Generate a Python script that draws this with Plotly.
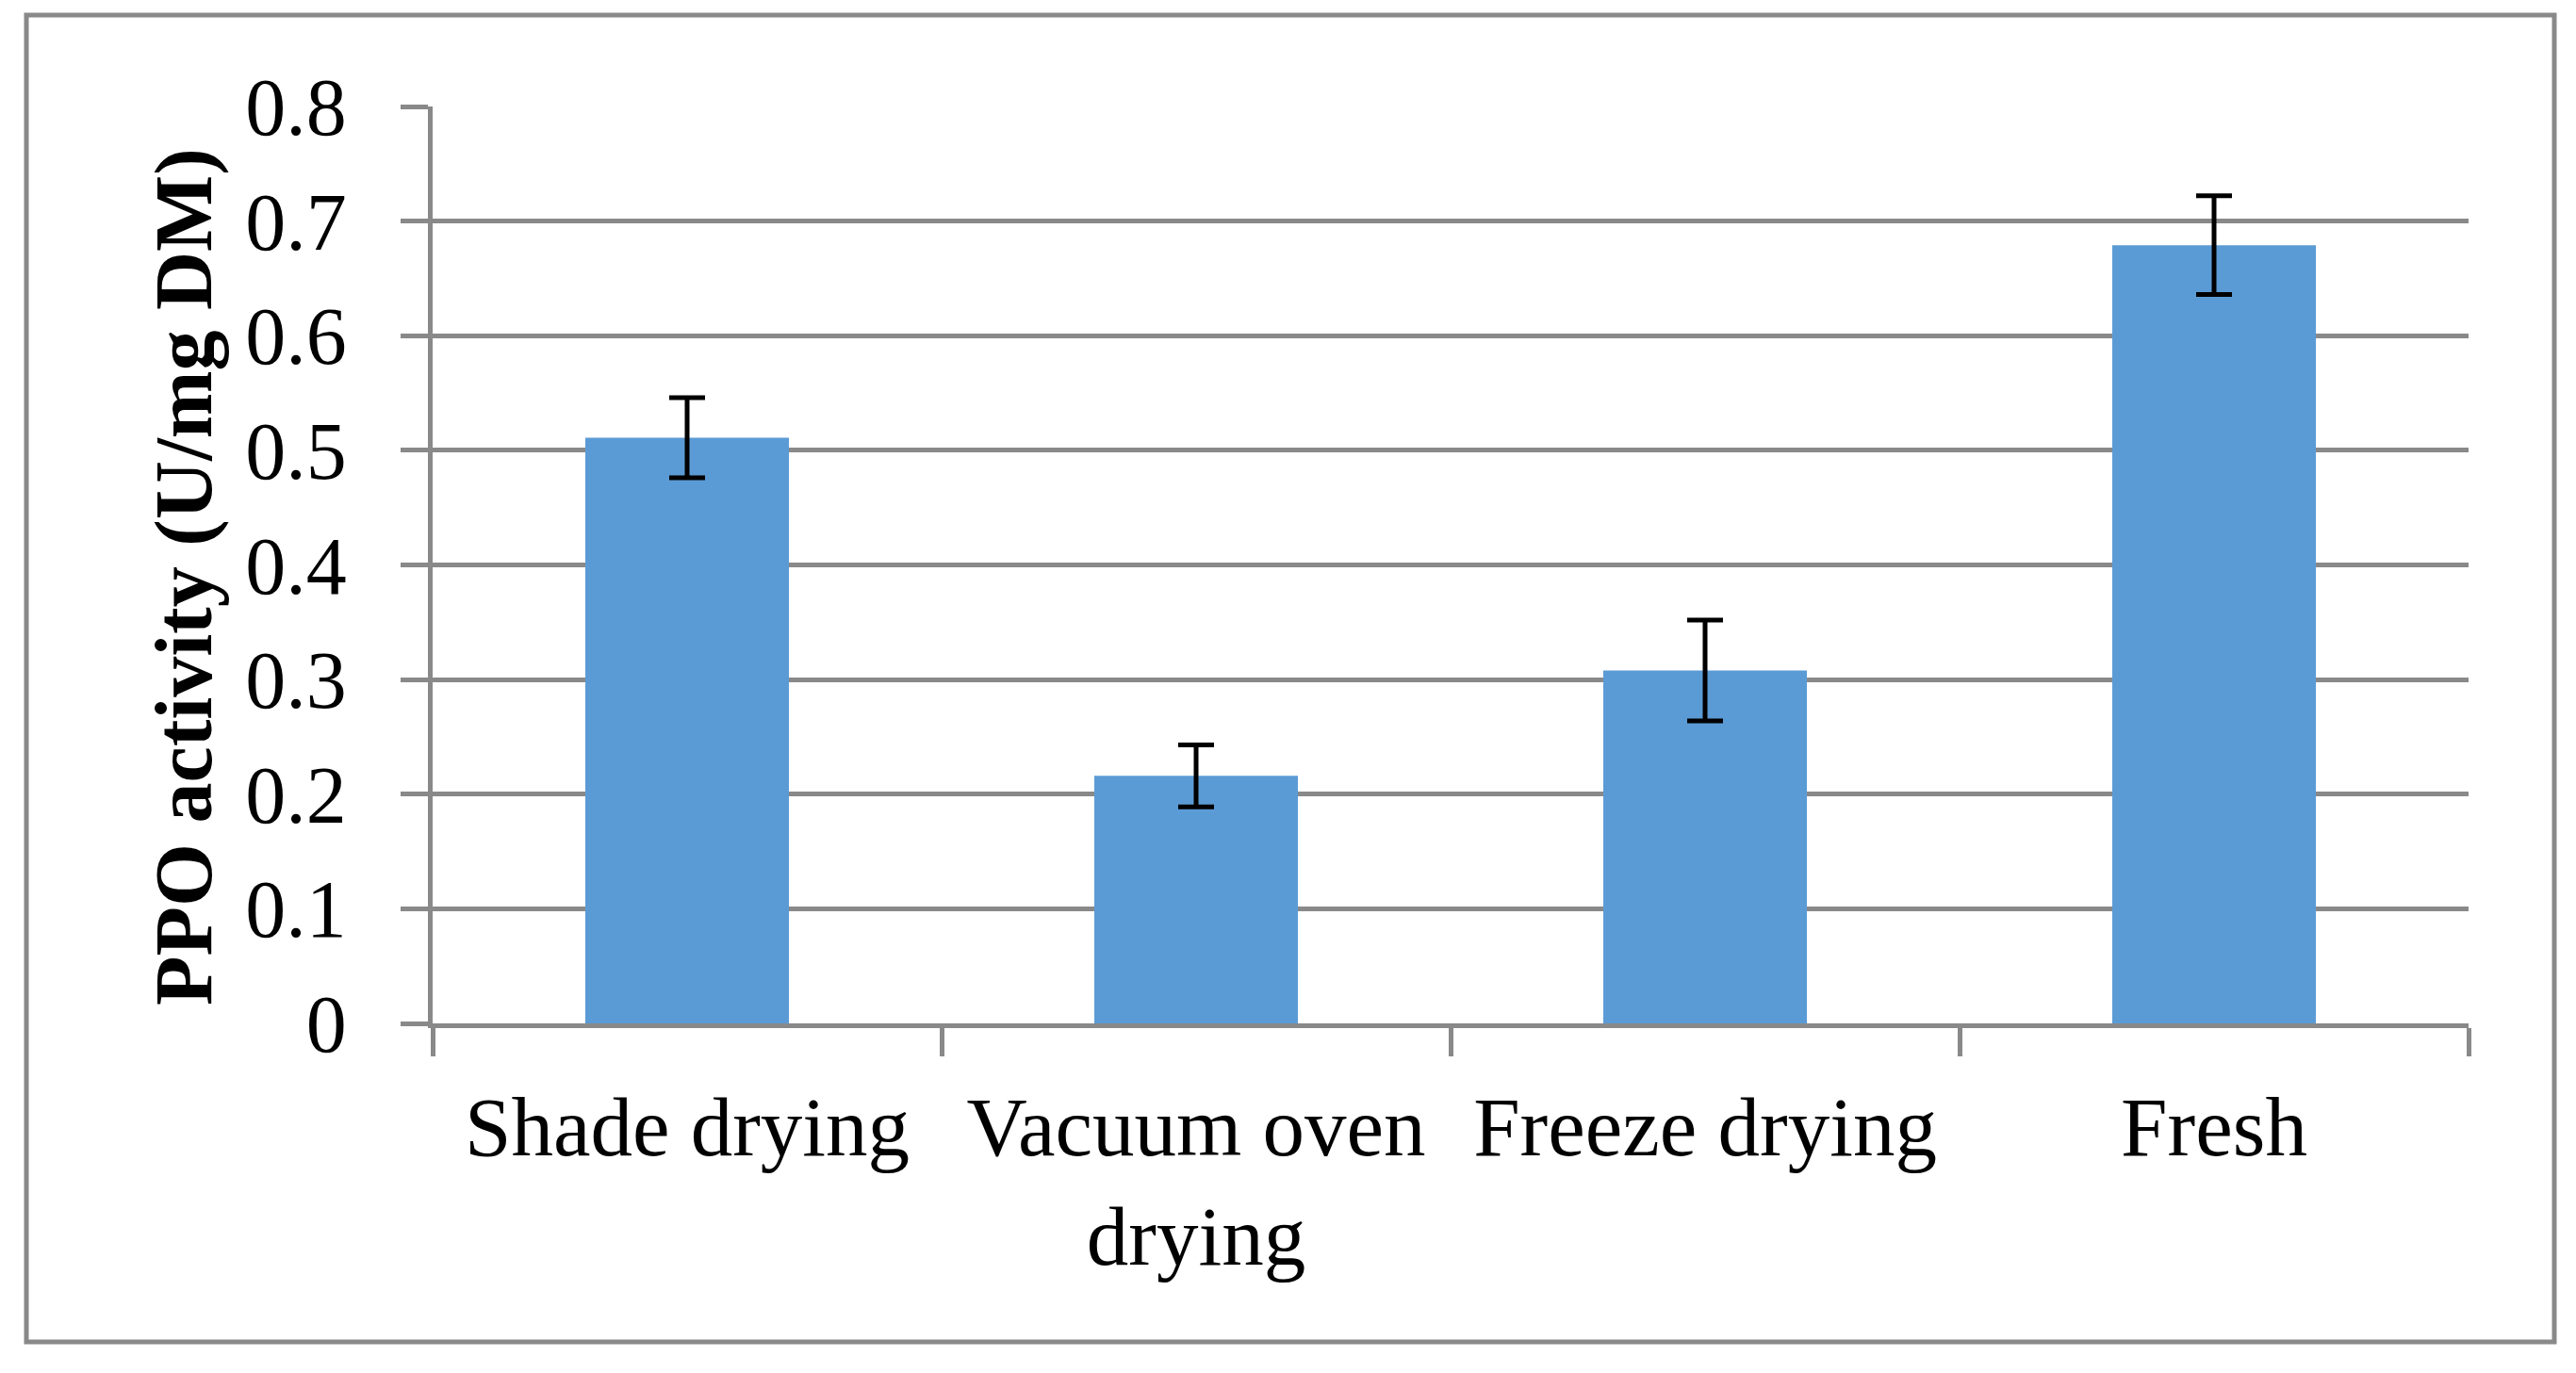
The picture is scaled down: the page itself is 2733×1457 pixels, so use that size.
import plotly.graph_objects as go

categories = ["Shade drying", "Vacuum oven<br>drying", "Freeze drying", "Fresh"]
ppo_activity = [0.511, 0.216, 0.308, 0.679]
ppo_error = [0.035, 0.027, 0.044, 0.043]
y_ticks = [0, 0.1, 0.2, 0.3, 0.4, 0.5, 0.6, 0.7, 0.8]
y_tick_labels = ["0", "0.1", "0.2", "0.3", "0.4", "0.5", "0.6", "0.7", "0.8"]

OFF = 8  # default page body margin
W, H = 2733 - OFF, 1457 - OFF
L, R, T, B = 459 - OFF, 2619 - OFF, 113 - OFF, 1086 - OFF
grid_color = "#898989"
font_family = "Liberation Serif, Times New Roman, serif"

fig = go.Figure()
fig.add_trace(go.Bar(
    x=categories,
    y=ppo_activity,
    marker=dict(color="#5B9BD5", line=dict(width=0)),
    error_y=dict(type="data", array=ppo_error, visible=True,
                 color="black", thickness=5, width=19),
    showlegend=False,
))

def px_to_paper_x(px):
    return (px - OFF - L) / (R - L)

def px_to_paper_y(py):
    return (B - (py - OFF)) / (B - T)

fig.update_layout(
    width=W, height=H,
    margin=dict(l=L, r=W - R, t=T, b=H - B, pad=0),
    paper_bgcolor="white",
    plot_bgcolor="white",
    bargap=0.6,
    font=dict(family=font_family, color="black", size=86),
    xaxis=dict(
        type="category",
        showline=True, linecolor=grid_color, linewidth=5,
        ticks="outside", tickson="boundaries", ticklen=30, tickwidth=5,
        tickcolor=grid_color,
        tickfont=dict(family=font_family, size=89, color="black"),
        showgrid=False,
        ticklabelstandoff=28,
    ),
    yaxis=dict(
        range=[0, 0.8],
        tickvals=y_ticks, ticktext=y_tick_labels,
        showline=True, linecolor=grid_color, linewidth=5,
        ticks="outside", ticklen=29, tickwidth=5, tickcolor=grid_color,
        showgrid=True, gridcolor=grid_color, gridwidth=5,
        zeroline=False,
        tickfont=dict(family=font_family, size=86, color="black"),
        ticklabelstandoff=40,
    ),
    annotations=[dict(
        text="<b>PPO activity (U/mg DM)</b>",
        xref="paper", yref="paper",
        x=px_to_paper_x(195), y=px_to_paper_y(612),
        xanchor="center", yanchor="middle",
        textangle=-90, showarrow=False,
        font=dict(family=font_family, size=86, color="black"),
    )],
    shapes=[dict(
        type="rect", xref="paper", yref="paper",
        x0=px_to_paper_x(28), x1=px_to_paper_x(2710),
        y0=px_to_paper_y(1424), y1=px_to_paper_y(16),
        line=dict(color=grid_color, width=5),
        fillcolor="rgba(0,0,0,0)", layer="below",
    )],
)

fig.write_html("out.html")
